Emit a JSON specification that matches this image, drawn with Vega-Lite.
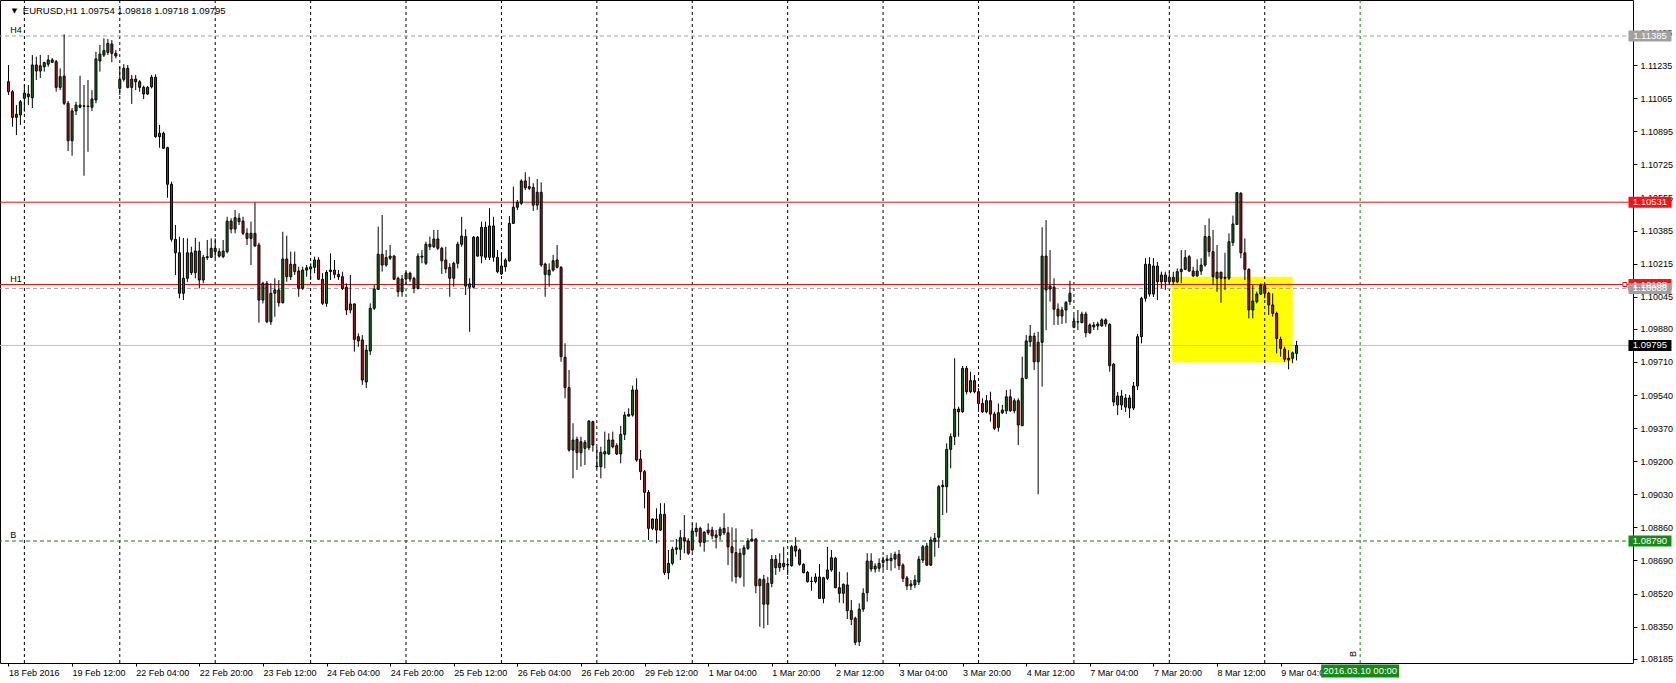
{
"$schema":"https://vega.github.io/schema/vega-lite/v6.json",
"width":1633,"height":663,
"autosize":{"type":"none"},
"padding":{"left":0,"top":0,"right":43,"bottom":20},
"background":"#ffffff",
"config":{"view":{"stroke":"#000000","strokeWidth":1},"font":"Liberation Sans"},
"datasets":{
"zone":[{"n1":292.55,"n2":323,"p1":1.10148,"p2":1.09708}],
"grid":[{"n":4,"d":"19 Feb"},{"n":28,"d":"22 Feb"},{"n":52,"d":"23 Feb"},{"n":76,"d":"24 Feb"},{"n":100,"d":"25 Feb"},{"n":124,"d":"26 Feb"},{"n":148,"d":"29 Feb"},{"n":172,"d":"1 Mar"},{"n":196,"d":"2 Mar"},{"n":220,"d":"3 Mar"},{"n":244,"d":"4 Mar"},{"n":268,"d":"7 Mar"},{"n":292,"d":"8 Mar"},{"n":316,"d":"9 Mar"},{"n":340,"d":"10 Mar","v":"B"}],
"levels":[{"p":1.11385,"kind":"h4","name":"H4"},{"p":1.10531,"kind":"r1"},{"p":1.10108,"kind":"r2","name":"H1"},{"p":1.10088,"kind":"g2"},{"p":1.09795,"kind":"bid"},{"p":1.0879,"kind":"b","name":"B"}],
"bars":[
{"n":0,"o":1.11150,"h":1.11236,"l":1.11082,"c":1.11099},
{"n":1,"o":1.11099,"h":1.11107,"l":1.10919,"c":1.10967},
{"n":2,"o":1.10967,"h":1.11030,"l":1.10876,"c":1.10983},
{"n":3,"o":1.10979,"h":1.11056,"l":1.10928,"c":1.11047},
{"n":4,"o":1.11065,"h":1.11133,"l":1.10996,"c":1.11091},
{"n":5,"o":1.11087,"h":1.11133,"l":1.11030,"c":1.11073},
{"n":6,"o":1.11068,"h":1.11287,"l":1.11015,"c":1.11236},
{"n":7,"o":1.11236,"h":1.11279,"l":1.11159,"c":1.11205},
{"n":8,"o":1.11205,"h":1.11287,"l":1.11169,"c":1.11232},
{"n":9,"o":1.11227,"h":1.11253,"l":1.11202,"c":1.11248},
{"n":10,"o":1.11240,"h":1.11287,"l":1.11227,"c":1.11262},
{"n":11,"o":1.11250,"h":1.11272,"l":1.11246,"c":1.11262},
{"n":12,"o":1.11253,"h":1.11262,"l":1.11099,"c":1.11121},
{"n":13,"o":1.11121,"h":1.11219,"l":1.11107,"c":1.11176},
{"n":14,"o":1.11179,"h":1.11394,"l":1.11030,"c":1.11039},
{"n":15,"o":1.11039,"h":1.11051,"l":1.10794,"c":1.10847},
{"n":16,"o":1.10847,"h":1.11015,"l":1.10770,"c":1.11000},
{"n":17,"o":1.11000,"h":1.11047,"l":1.10979,"c":1.11030},
{"n":18,"o":1.11019,"h":1.11181,"l":1.11013,"c":1.11030},
{"n":19,"o":1.11024,"h":1.11133,"l":1.10667,"c":1.11026},
{"n":20,"o":1.11025,"h":1.11159,"l":1.10790,"c":1.11022},
{"n":21,"o":1.11019,"h":1.11107,"l":1.11000,"c":1.11061},
{"n":22,"o":1.11056,"h":1.11304,"l":1.11039,"c":1.11267},
{"n":23,"o":1.11257,"h":1.11339,"l":1.11202,"c":1.11292},
{"n":24,"o":1.11287,"h":1.11373,"l":1.11277,"c":1.11310},
{"n":25,"o":1.11301,"h":1.11370,"l":1.11287,"c":1.11347},
{"n":26,"o":1.11344,"h":1.11364,"l":1.11250,"c":1.11296},
{"n":27,"o":1.11296,"h":1.11313,"l":1.11270,"c":1.11282},
{"n":28,"o":1.11116,"h":1.11227,"l":1.11082,"c":1.11162},
{"n":29,"o":1.11162,"h":1.11240,"l":1.11150,"c":1.11219},
{"n":30,"o":1.11219,"h":1.11236,"l":1.11116,"c":1.11121},
{"n":31,"o":1.11121,"h":1.11185,"l":1.11036,"c":1.11164},
{"n":32,"o":1.11164,"h":1.11185,"l":1.11107,"c":1.11150},
{"n":33,"o":1.11150,"h":1.11159,"l":1.11099,"c":1.11121},
{"n":34,"o":1.11121,"h":1.11130,"l":1.11061,"c":1.11087},
{"n":35,"o":1.11087,"h":1.11128,"l":1.11082,"c":1.11121},
{"n":36,"o":1.11124,"h":1.11185,"l":1.11116,"c":1.11173},
{"n":37,"o":1.11173,"h":1.11188,"l":1.10862,"c":1.10868},
{"n":38,"o":1.10868,"h":1.10928,"l":1.10811,"c":1.10885},
{"n":39,"o":1.10885,"h":1.10893,"l":1.10804,"c":1.10808},
{"n":40,"o":1.10811,"h":1.10816,"l":1.10554,"c":1.10623},
{"n":41,"o":1.10623,"h":1.10636,"l":1.10328,"c":1.10340},
{"n":42,"o":1.10340,"h":1.10414,"l":1.10157,"c":1.10271},
{"n":43,"o":1.10271,"h":1.10354,"l":1.10037,"c":1.10063},
{"n":44,"o":1.10063,"h":1.10347,"l":1.10028,"c":1.10140},
{"n":45,"o":1.10140,"h":1.10345,"l":1.10122,"c":1.10271},
{"n":46,"o":1.10271,"h":1.10302,"l":1.10157,"c":1.10169},
{"n":47,"o":1.10169,"h":1.10348,"l":1.10140,"c":1.10280},
{"n":48,"o":1.10280,"h":1.10328,"l":1.10088,"c":1.10131},
{"n":49,"o":1.10131,"h":1.10260,"l":1.10114,"c":1.10248},
{"n":50,"o":1.10246,"h":1.10337,"l":1.10234,"c":1.10251},
{"n":51,"o":1.10248,"h":1.10345,"l":1.10243,"c":1.10294},
{"n":52,"o":1.10294,"h":1.10345,"l":1.10243,"c":1.10277},
{"n":53,"o":1.10277,"h":1.10294,"l":1.10246,"c":1.10254},
{"n":54,"o":1.10251,"h":1.10337,"l":1.10243,"c":1.10280},
{"n":55,"o":1.10277,"h":1.10456,"l":1.10268,"c":1.10434},
{"n":56,"o":1.10434,"h":1.10448,"l":1.10371,"c":1.10393},
{"n":57,"o":1.10393,"h":1.10491,"l":1.10371,"c":1.10451},
{"n":58,"o":1.10448,"h":1.10474,"l":1.10414,"c":1.10431},
{"n":59,"o":1.10434,"h":1.10456,"l":1.10362,"c":1.10371},
{"n":60,"o":1.10371,"h":1.10397,"l":1.10311,"c":1.10345},
{"n":61,"o":1.10345,"h":1.10431,"l":1.10208,"c":1.10371},
{"n":62,"o":1.10371,"h":1.10530,"l":1.10302,"c":1.10306},
{"n":63,"o":1.10311,"h":1.10323,"l":1.09912,"c":1.10028},
{"n":64,"o":1.10028,"h":1.10122,"l":1.10011,"c":1.10114},
{"n":65,"o":1.10114,"h":1.10126,"l":1.09909,"c":1.09917},
{"n":66,"o":1.09917,"h":1.10114,"l":1.09900,"c":1.10063},
{"n":67,"o":1.10063,"h":1.10140,"l":1.09943,"c":1.10080},
{"n":68,"o":1.10080,"h":1.10131,"l":1.09994,"c":1.10014},
{"n":69,"o":1.10014,"h":1.10379,"l":1.10011,"c":1.10239},
{"n":70,"o":1.10239,"h":1.10359,"l":1.10122,"c":1.10148},
{"n":71,"o":1.10148,"h":1.10277,"l":1.10131,"c":1.10212},
{"n":72,"o":1.10212,"h":1.10277,"l":1.10157,"c":1.10174},
{"n":73,"o":1.10177,"h":1.10199,"l":1.10045,"c":1.10088},
{"n":74,"o":1.10088,"h":1.10199,"l":1.10080,"c":1.10182},
{"n":75,"o":1.10182,"h":1.10208,"l":1.10148,"c":1.10194},
{"n":76,"o":1.10188,"h":1.10217,"l":1.10131,"c":1.10199},
{"n":77,"o":1.10196,"h":1.10251,"l":1.10166,"c":1.10234},
{"n":78,"o":1.10234,"h":1.10248,"l":1.10131,"c":1.10135},
{"n":79,"o":1.10135,"h":1.10166,"l":1.10003,"c":1.10011},
{"n":80,"o":1.10011,"h":1.10182,"l":1.09994,"c":1.10171},
{"n":81,"o":1.10174,"h":1.10268,"l":1.10131,"c":1.10182},
{"n":82,"o":1.10182,"h":1.10234,"l":1.10140,"c":1.10160},
{"n":83,"o":1.10160,"h":1.10182,"l":1.10131,"c":1.10148},
{"n":84,"o":1.10148,"h":1.10174,"l":1.10080,"c":1.10088},
{"n":85,"o":1.10094,"h":1.10114,"l":1.09951,"c":1.09977},
{"n":86,"o":1.09977,"h":1.10157,"l":1.09960,"c":1.10008},
{"n":87,"o":1.10008,"h":1.10011,"l":1.09763,"c":1.09826},
{"n":88,"o":1.09840,"h":1.09857,"l":1.09788,"c":1.09818},
{"n":89,"o":1.09823,"h":1.09848,"l":1.09592,"c":1.09617},
{"n":90,"o":1.09607,"h":1.09797,"l":1.09576,"c":1.09771},
{"n":91,"o":1.09766,"h":1.10011,"l":1.09746,"c":1.09986},
{"n":92,"o":1.09986,"h":1.10105,"l":1.09977,"c":1.10085},
{"n":93,"o":1.10083,"h":1.10405,"l":1.10080,"c":1.10263},
{"n":94,"o":1.10263,"h":1.10465,"l":1.10174,"c":1.10208},
{"n":95,"o":1.10208,"h":1.10285,"l":1.10199,"c":1.10246},
{"n":96,"o":1.10243,"h":1.10311,"l":1.10234,"c":1.10254},
{"n":97,"o":1.10254,"h":1.10260,"l":1.10131,"c":1.10135},
{"n":98,"o":1.10140,"h":1.10148,"l":1.10045,"c":1.10071},
{"n":99,"o":1.10071,"h":1.10157,"l":1.10045,"c":1.10136},
{"n":100,"o":1.10136,"h":1.10174,"l":1.10105,"c":1.10166},
{"n":101,"o":1.10166,"h":1.10174,"l":1.10122,"c":1.10136},
{"n":102,"o":1.10140,"h":1.10148,"l":1.10063,"c":1.10088},
{"n":103,"o":1.10088,"h":1.10268,"l":1.10083,"c":1.10254},
{"n":104,"o":1.10254,"h":1.10285,"l":1.10217,"c":1.10249},
{"n":105,"o":1.10217,"h":1.10328,"l":1.10208,"c":1.10315},
{"n":106,"o":1.10315,"h":1.10354,"l":1.10285,"c":1.10302},
{"n":107,"o":1.10302,"h":1.10388,"l":1.10296,"c":1.10342},
{"n":108,"o":1.10342,"h":1.10388,"l":1.10285,"c":1.10294},
{"n":109,"o":1.10294,"h":1.10302,"l":1.10162,"c":1.10230},
{"n":110,"o":1.10234,"h":1.10302,"l":1.10166,"c":1.10188},
{"n":111,"o":1.10196,"h":1.10217,"l":1.10045,"c":1.10140},
{"n":112,"o":1.10140,"h":1.10225,"l":1.10097,"c":1.10217},
{"n":113,"o":1.10217,"h":1.10328,"l":1.10191,"c":1.10315},
{"n":114,"o":1.10315,"h":1.10456,"l":1.10302,"c":1.10357},
{"n":115,"o":1.10354,"h":1.10392,"l":1.10054,"c":1.10100},
{"n":116,"o":1.10111,"h":1.10140,"l":1.09865,"c":1.10094},
{"n":117,"o":1.10094,"h":1.10357,"l":1.10088,"c":1.10351},
{"n":118,"o":1.10351,"h":1.10357,"l":1.10251,"c":1.10254},
{"n":119,"o":1.10254,"h":1.10431,"l":1.10217,"c":1.10402},
{"n":120,"o":1.10402,"h":1.10431,"l":1.10234,"c":1.10248},
{"n":121,"o":1.10248,"h":1.10500,"l":1.10234,"c":1.10409},
{"n":122,"o":1.10409,"h":1.10456,"l":1.10225,"c":1.10248},
{"n":123,"o":1.10248,"h":1.10285,"l":1.10166,"c":1.10174},
{"n":124,"o":1.10162,"h":1.10268,"l":1.10157,"c":1.10203},
{"n":125,"o":1.10199,"h":1.10243,"l":1.10174,"c":1.10234},
{"n":126,"o":1.10230,"h":1.10460,"l":1.10225,"c":1.10422},
{"n":127,"o":1.10422,"h":1.10611,"l":1.10419,"c":1.10505},
{"n":128,"o":1.10505,"h":1.10542,"l":1.10491,"c":1.10530},
{"n":129,"o":1.10525,"h":1.10649,"l":1.10516,"c":1.10640},
{"n":130,"o":1.10640,"h":1.10685,"l":1.10594,"c":1.10605},
{"n":131,"o":1.10611,"h":1.10662,"l":1.10594,"c":1.10602},
{"n":132,"o":1.10607,"h":1.10628,"l":1.10486,"c":1.10516},
{"n":133,"o":1.10516,"h":1.10650,"l":1.10491,"c":1.10582},
{"n":134,"o":1.10582,"h":1.10633,"l":1.10199,"c":1.10208},
{"n":135,"o":1.10213,"h":1.10220,"l":1.10045,"c":1.10160},
{"n":136,"o":1.10157,"h":1.10217,"l":1.10097,"c":1.10182},
{"n":137,"o":1.10182,"h":1.10260,"l":1.10174,"c":1.10230},
{"n":138,"o":1.10234,"h":1.10311,"l":1.10191,"c":1.10196},
{"n":139,"o":1.10196,"h":1.10203,"l":1.09711,"c":1.09737},
{"n":140,"o":1.09734,"h":1.09806,"l":1.09523,"c":1.09578},
{"n":141,"o":1.09578,"h":1.09669,"l":1.09249,"c":1.09257},
{"n":142,"o":1.09257,"h":1.09395,"l":1.09112,"c":1.09309},
{"n":143,"o":1.09312,"h":1.09326,"l":1.09155,"c":1.09244},
{"n":144,"o":1.09244,"h":1.09326,"l":1.09172,"c":1.09300},
{"n":145,"o":1.09297,"h":1.09309,"l":1.09180,"c":1.09266},
{"n":146,"o":1.09269,"h":1.09412,"l":1.09257,"c":1.09406},
{"n":147,"o":1.09403,"h":1.09408,"l":1.09249,"c":1.09283},
{"n":148,"o":1.09172,"h":1.09274,"l":1.09163,"c":1.09175},
{"n":149,"o":1.09172,"h":1.09274,"l":1.09112,"c":1.09246},
{"n":150,"o":1.09237,"h":1.09352,"l":1.09163,"c":1.09249},
{"n":151,"o":1.09237,"h":1.09343,"l":1.09232,"c":1.09309},
{"n":152,"o":1.09309,"h":1.09352,"l":1.09266,"c":1.09274},
{"n":153,"o":1.09280,"h":1.09292,"l":1.09232,"c":1.09237},
{"n":154,"o":1.09237,"h":1.09381,"l":1.09189,"c":1.09338},
{"n":155,"o":1.09338,"h":1.09454,"l":1.09309,"c":1.09437},
{"n":156,"o":1.09432,"h":1.09472,"l":1.09429,"c":1.09441},
{"n":157,"o":1.09437,"h":1.09588,"l":1.09429,"c":1.09566},
{"n":158,"o":1.09566,"h":1.09626,"l":1.09197,"c":1.09206},
{"n":159,"o":1.09211,"h":1.09257,"l":1.09103,"c":1.09146},
{"n":160,"o":1.09146,"h":1.09155,"l":1.08958,"c":1.09040},
{"n":161,"o":1.09040,"h":1.09052,"l":1.08795,"c":1.08855},
{"n":162,"o":1.08855,"h":1.08906,"l":1.08846,"c":1.08903},
{"n":163,"o":1.08903,"h":1.08958,"l":1.08778,"c":1.08846},
{"n":164,"o":1.08846,"h":1.08984,"l":1.08841,"c":1.08927},
{"n":165,"o":1.08927,"h":1.08984,"l":1.08615,"c":1.08627},
{"n":166,"o":1.08627,"h":1.08744,"l":1.08593,"c":1.08675},
{"n":167,"o":1.08675,"h":1.08760,"l":1.08666,"c":1.08747},
{"n":168,"o":1.08747,"h":1.08800,"l":1.08720,"c":1.08755},
{"n":169,"o":1.08747,"h":1.08846,"l":1.08692,"c":1.08807},
{"n":170,"o":1.08807,"h":1.08923,"l":1.08727,"c":1.08790},
{"n":171,"o":1.08790,"h":1.08804,"l":1.08718,"c":1.08727},
{"n":172,"o":1.08744,"h":1.08881,"l":1.08735,"c":1.08841},
{"n":173,"o":1.08838,"h":1.08884,"l":1.08812,"c":1.08855},
{"n":174,"o":1.08855,"h":1.08863,"l":1.08760,"c":1.08783},
{"n":175,"o":1.08783,"h":1.08841,"l":1.08735,"c":1.08835},
{"n":176,"o":1.08846,"h":1.08881,"l":1.08821,"c":1.08832},
{"n":177,"o":1.08846,"h":1.08863,"l":1.08799,"c":1.08816},
{"n":178,"o":1.08809,"h":1.08846,"l":1.08752,"c":1.08821},
{"n":179,"o":1.08819,"h":1.08863,"l":1.08795,"c":1.08851},
{"n":180,"o":1.08855,"h":1.08932,"l":1.08821,"c":1.08832},
{"n":181,"o":1.08832,"h":1.08863,"l":1.08666,"c":1.08760},
{"n":182,"o":1.08760,"h":1.08860,"l":1.08581,"c":1.08730},
{"n":183,"o":1.08730,"h":1.08855,"l":1.08572,"c":1.08606},
{"n":184,"o":1.08606,"h":1.08752,"l":1.08598,"c":1.08727},
{"n":185,"o":1.08721,"h":1.08769,"l":1.08555,"c":1.08755},
{"n":186,"o":1.08752,"h":1.08804,"l":1.08744,"c":1.08790},
{"n":187,"o":1.08790,"h":1.08851,"l":1.08786,"c":1.08800},
{"n":188,"o":1.08800,"h":1.08804,"l":1.08521,"c":1.08560},
{"n":189,"o":1.08560,"h":1.08598,"l":1.08349,"c":1.08593},
{"n":190,"o":1.08593,"h":1.08615,"l":1.08341,"c":1.08465},
{"n":191,"o":1.08465,"h":1.08606,"l":1.08358,"c":1.08572},
{"n":192,"o":1.08572,"h":1.08718,"l":1.08552,"c":1.08696},
{"n":193,"o":1.08696,"h":1.08718,"l":1.08615,"c":1.08653},
{"n":194,"o":1.08653,"h":1.08727,"l":1.08632,"c":1.08675},
{"n":195,"o":1.08675,"h":1.08760,"l":1.08641,"c":1.08658},
{"n":196,"o":1.08670,"h":1.08692,"l":1.08615,"c":1.08667},
{"n":197,"o":1.08663,"h":1.08769,"l":1.08658,"c":1.08760},
{"n":198,"o":1.08764,"h":1.08809,"l":1.08709,"c":1.08738},
{"n":199,"o":1.08744,"h":1.08752,"l":1.08663,"c":1.08670},
{"n":200,"o":1.08670,"h":1.08675,"l":1.08624,"c":1.08627},
{"n":201,"o":1.08629,"h":1.08636,"l":1.08576,"c":1.08581},
{"n":202,"o":1.08584,"h":1.08606,"l":1.08534,"c":1.08582},
{"n":203,"o":1.08581,"h":1.08624,"l":1.08572,"c":1.08605},
{"n":204,"o":1.08605,"h":1.08672,"l":1.08492,"c":1.08495},
{"n":205,"o":1.08495,"h":1.08606,"l":1.08470,"c":1.08601},
{"n":206,"o":1.08598,"h":1.08760,"l":1.08589,"c":1.08641},
{"n":207,"o":1.08641,"h":1.08744,"l":1.08632,"c":1.08704},
{"n":208,"o":1.08701,"h":1.08709,"l":1.08547,"c":1.08550},
{"n":209,"o":1.08550,"h":1.08632,"l":1.08473,"c":1.08521},
{"n":210,"o":1.08521,"h":1.08572,"l":1.08470,"c":1.08567},
{"n":211,"o":1.08564,"h":1.08629,"l":1.08389,"c":1.08432},
{"n":212,"o":1.08432,"h":1.08487,"l":1.08358,"c":1.08387},
{"n":213,"o":1.08393,"h":1.08401,"l":1.08255,"c":1.08269},
{"n":214,"o":1.08272,"h":1.08470,"l":1.08250,"c":1.08440},
{"n":215,"o":1.08440,"h":1.08547,"l":1.08426,"c":1.08521},
{"n":216,"o":1.08524,"h":1.08727,"l":1.08478,"c":1.08687},
{"n":217,"o":1.08687,"h":1.08727,"l":1.08632,"c":1.08646},
{"n":218,"o":1.08646,"h":1.08675,"l":1.08627,"c":1.08661},
{"n":219,"o":1.08650,"h":1.08701,"l":1.08632,"c":1.08675},
{"n":220,"o":1.08680,"h":1.08709,"l":1.08641,"c":1.08692},
{"n":221,"o":1.08689,"h":1.08718,"l":1.08641,"c":1.08697},
{"n":222,"o":1.08689,"h":1.08727,"l":1.08637,"c":1.08701},
{"n":223,"o":1.08697,"h":1.08735,"l":1.08650,"c":1.08721},
{"n":224,"o":1.08721,"h":1.08744,"l":1.08641,"c":1.08663},
{"n":225,"o":1.08666,"h":1.08675,"l":1.08579,"c":1.08598},
{"n":226,"o":1.08600,"h":1.08610,"l":1.08538,"c":1.08559},
{"n":227,"o":1.08559,"h":1.08589,"l":1.08538,"c":1.08569},
{"n":228,"o":1.08564,"h":1.08615,"l":1.08548,"c":1.08589},
{"n":229,"o":1.08579,"h":1.08713,"l":1.08564,"c":1.08696},
{"n":230,"o":1.08692,"h":1.08769,"l":1.08677,"c":1.08760},
{"n":231,"o":1.08764,"h":1.08780,"l":1.08661,"c":1.08666},
{"n":232,"o":1.08666,"h":1.08812,"l":1.08661,"c":1.08795},
{"n":233,"o":1.08786,"h":1.08831,"l":1.08709,"c":1.08804},
{"n":234,"o":1.08809,"h":1.09078,"l":1.08754,"c":1.09069},
{"n":235,"o":1.09069,"h":1.09103,"l":1.08923,"c":1.09076},
{"n":236,"o":1.09069,"h":1.09292,"l":1.08935,"c":1.09261},
{"n":237,"o":1.09261,"h":1.09343,"l":1.09163,"c":1.09326},
{"n":238,"o":1.09326,"h":1.09729,"l":1.09283,"c":1.09468},
{"n":239,"o":1.09468,"h":1.09480,"l":1.09326,"c":1.09454},
{"n":240,"o":1.09454,"h":1.09689,"l":1.09449,"c":1.09677},
{"n":241,"o":1.09677,"h":1.09689,"l":1.09544,"c":1.09557},
{"n":242,"o":1.09557,"h":1.09660,"l":1.09549,"c":1.09614},
{"n":243,"o":1.09614,"h":1.09643,"l":1.09549,"c":1.09557},
{"n":244,"o":1.09557,"h":1.09575,"l":1.09454,"c":1.09497},
{"n":245,"o":1.09497,"h":1.09523,"l":1.09449,"c":1.09454},
{"n":246,"o":1.09454,"h":1.09540,"l":1.09446,"c":1.09511},
{"n":247,"o":1.09511,"h":1.09557,"l":1.09403,"c":1.09442},
{"n":248,"o":1.09442,"h":1.09454,"l":1.09360,"c":1.09369},
{"n":249,"o":1.09374,"h":1.09497,"l":1.09352,"c":1.09449},
{"n":250,"o":1.09449,"h":1.09489,"l":1.09442,"c":1.09463},
{"n":251,"o":1.09459,"h":1.09566,"l":1.09442,"c":1.09531},
{"n":252,"o":1.09531,"h":1.09569,"l":1.09454,"c":1.09459},
{"n":253,"o":1.09459,"h":1.09523,"l":1.09446,"c":1.09511},
{"n":254,"o":1.09511,"h":1.09523,"l":1.09283,"c":1.09386},
{"n":255,"o":1.09382,"h":1.09737,"l":1.09381,"c":1.09626},
{"n":256,"o":1.09626,"h":1.09848,"l":1.09621,"c":1.09818},
{"n":257,"o":1.09814,"h":1.09900,"l":1.09788,"c":1.09843},
{"n":258,"o":1.09843,"h":1.09860,"l":1.09669,"c":1.09711},
{"n":259,"o":1.09711,"h":1.09865,"l":1.09030,"c":1.09811},
{"n":260,"o":1.09811,"h":1.10402,"l":1.09583,"c":1.10254},
{"n":261,"o":1.10254,"h":1.10439,"l":1.09874,"c":1.10080},
{"n":262,"o":1.10085,"h":1.10285,"l":1.10020,"c":1.10100},
{"n":263,"o":1.10094,"h":1.10140,"l":1.09900,"c":1.09981},
{"n":264,"o":1.09981,"h":1.10011,"l":1.09900,"c":1.09946},
{"n":265,"o":1.09946,"h":1.09994,"l":1.09905,"c":1.09977},
{"n":266,"o":1.09977,"h":1.10023,"l":1.09909,"c":1.10016},
{"n":267,"o":1.10020,"h":1.10127,"l":1.10003,"c":1.10063},
{"n":268,"o":1.09888,"h":1.09951,"l":1.09883,"c":1.09920},
{"n":269,"o":1.09915,"h":1.09977,"l":1.09874,"c":1.09917},
{"n":270,"o":1.09912,"h":1.09968,"l":1.09909,"c":1.09956},
{"n":271,"o":1.09956,"h":1.09968,"l":1.09837,"c":1.09860},
{"n":272,"o":1.09860,"h":1.09909,"l":1.09854,"c":1.09900},
{"n":273,"o":1.09890,"h":1.09915,"l":1.09874,"c":1.09900},
{"n":274,"o":1.09895,"h":1.09917,"l":1.09874,"c":1.09905},
{"n":275,"o":1.09895,"h":1.09934,"l":1.09891,"c":1.09926},
{"n":276,"o":1.09926,"h":1.09934,"l":1.09891,"c":1.09905},
{"n":277,"o":1.09903,"h":1.09909,"l":1.09660,"c":1.09691},
{"n":278,"o":1.09698,"h":1.09705,"l":1.09484,"c":1.09504},
{"n":279,"o":1.09489,"h":1.09556,"l":1.09437,"c":1.09535},
{"n":280,"o":1.09535,"h":1.09566,"l":1.09463,"c":1.09489},
{"n":281,"o":1.09478,"h":1.09545,"l":1.09453,"c":1.09525},
{"n":282,"o":1.09525,"h":1.09540,"l":1.09422,"c":1.09473},
{"n":283,"o":1.09473,"h":1.09607,"l":1.09463,"c":1.09586},
{"n":284,"o":1.09586,"h":1.09854,"l":1.09566,"c":1.09840},
{"n":285,"o":1.09840,"h":1.10045,"l":1.09806,"c":1.10037},
{"n":286,"o":1.10037,"h":1.10244,"l":1.10020,"c":1.10212},
{"n":287,"o":1.10212,"h":1.10248,"l":1.10045,"c":1.10059},
{"n":288,"o":1.10059,"h":1.10244,"l":1.10044,"c":1.10203},
{"n":289,"o":1.10203,"h":1.10224,"l":1.10028,"c":1.10122},
{"n":290,"o":1.10122,"h":1.10174,"l":1.10088,"c":1.10157},
{"n":291,"o":1.10157,"h":1.10174,"l":1.10080,"c":1.10122},
{"n":292,"o":1.10122,"h":1.10174,"l":1.10105,"c":1.10145},
{"n":293,"o":1.10145,"h":1.10174,"l":1.10105,"c":1.10122},
{"n":294,"o":1.10122,"h":1.10191,"l":1.10114,"c":1.10174},
{"n":295,"o":1.10174,"h":1.10285,"l":1.10114,"c":1.10186},
{"n":296,"o":1.10186,"h":1.10285,"l":1.10182,"c":1.10246},
{"n":297,"o":1.10251,"h":1.10260,"l":1.10174,"c":1.10177},
{"n":298,"o":1.10177,"h":1.10199,"l":1.10148,"c":1.10152},
{"n":299,"o":1.10152,"h":1.10237,"l":1.10148,"c":1.10177},
{"n":300,"o":1.10177,"h":1.10243,"l":1.10157,"c":1.10208},
{"n":301,"o":1.10208,"h":1.10414,"l":1.10199,"c":1.10354},
{"n":302,"o":1.10354,"h":1.10448,"l":1.10251,"c":1.10277},
{"n":303,"o":1.10277,"h":1.10388,"l":1.10105,"c":1.10148},
{"n":304,"o":1.10140,"h":1.10311,"l":1.10071,"c":1.10171},
{"n":305,"o":1.10171,"h":1.10174,"l":1.10014,"c":1.10140},
{"n":306,"o":1.10145,"h":1.10271,"l":1.10080,"c":1.10140},
{"n":307,"o":1.10140,"h":1.10371,"l":1.10131,"c":1.10328},
{"n":308,"o":1.10323,"h":1.10462,"l":1.10306,"c":1.10419},
{"n":309,"o":1.10417,"h":1.10582,"l":1.10414,"c":1.10580},
{"n":310,"o":1.10577,"h":1.10582,"l":1.10243,"c":1.10271},
{"n":311,"o":1.10271,"h":1.10345,"l":1.10131,"c":1.10186},
{"n":312,"o":1.10186,"h":1.10191,"l":1.09934,"c":1.09977},
{"n":313,"o":1.09977,"h":1.10105,"l":1.09934,"c":1.10023},
{"n":314,"o":1.10020,"h":1.10071,"l":1.10011,"c":1.10059},
{"n":315,"o":1.10059,"h":1.10114,"l":1.10054,"c":1.10105},
{"n":316,"o":1.10102,"h":1.10111,"l":1.10037,"c":1.10063},
{"n":317,"o":1.10063,"h":1.10071,"l":1.09951,"c":1.10003},
{"n":318,"o":1.10003,"h":1.10063,"l":1.09943,"c":1.09960},
{"n":319,"o":1.09960,"h":1.09968,"l":1.09754,"c":1.09831},
{"n":320,"o":1.09826,"h":1.09840,"l":1.09737,"c":1.09780},
{"n":321,"o":1.09776,"h":1.09788,"l":1.09711,"c":1.09724},
{"n":322,"o":1.09729,"h":1.09771,"l":1.09672,"c":1.09720},
{"n":323,"o":1.09729,"h":1.09763,"l":1.09703,"c":1.09757},
{"n":324,"o":1.09754,"h":1.09818,"l":1.09718,"c":1.09795}
]},
"encoding":{
  "x":{"type":"quantitative","title":null,"scale":{"domain":[-0.875,407.375],"nice":false,"zero":false},
   "axis":{"title":null,"grid":false,"domain":false,"values":[0,16,32,48,64,80,96,112,128,144,160,176,192,208,224,240,256,272,288,304,320],
   "labelExpr":"['18 Feb 2016','19 Feb 12:00','22 Feb 04:00','22 Feb 20:00','23 Feb 12:00','24 Feb 04:00','24 Feb 20:00','25 Feb 12:00','26 Feb 04:00','26 Feb 20:00','29 Feb 12:00','1 Mar 04:00','1 Mar 20:00','2 Mar 12:00','3 Mar 04:00','3 Mar 20:00','4 Mar 12:00','7 Mar 04:00','7 Mar 20:00','8 Mar 12:00','9 Mar 04:00'][round(datum.value/16)]",
   "labelAlign":"left","labelBaseline":"top","labelPadding":2,"labelDx":-2,"labelFontSize":9,"labelColor":"#000000","tickColor":"#000000","tickSize":3,"labelOverlap":false,"labelFlush":false,"labelBound":false}},
  "y":{"type":"quantitative","title":null,"scale":{"domain":[1.08163,1.1157],"nice":false,"zero":false},
   "axis":{"title":null,"orient":"right","grid":false,"domain":false,"format":".5f",
   "values":[1.08185,1.0835,1.0852,1.0869,1.0886,1.0903,1.092,1.0937,1.0954,1.0971,1.0988,1.10045,1.10215,1.10385,1.10555,1.10725,1.10895,1.11065,1.11235,1.11405],
   "labelFontSize":9,"labelColor":"#000000","tickColor":"#000000","tickSize":4,"labelPadding":3,"labelOverlap":false,"labelFlush":false,"labelBound":false}}
},
"layer":[
{"data":{"name":"zone"},"mark":{"type":"rect","color":"#ffff00"},
 "encoding":{"x":{"field":"n1"},"x2":{"field":"n2"},"y":{"field":"p1"},"y2":{"field":"p2"}}},
{"data":{"name":"grid"},"mark":{"type":"rule","strokeDash":[3,3],"strokeWidth":1},
 "encoding":{"x":{"field":"n"},"y":null,
  "color":{"condition":{"test":"datum.v == 'B'","value":"#1a7a1a"},"value":"#000000"}}},
{"data":{"name":"levels"},"mark":{"type":"rule","strokeWidth":1},
 "encoding":{"x":null,"y":{"field":"p"},
  "stroke":{"field":"kind","type":"nominal","legend":null,"scale":{"domain":["h4","r1","r2","g2","bid","b"],"range":["#a0a0a0","#d41a1a","#d41a1a","#a0a0a0","#c0c0c0","#1a7a1a"]}},
  "strokeDash":{"field":"kind","type":"nominal","legend":null,"scale":{"domain":["h4","r1","r2","g2","bid","b"],"range":[[4,3],[1,0],[1,0],[4,3],[1,0],[4,3]]}}}},
{"data":{"name":"bars"},"mark":{"type":"rule","color":"#000000","strokeWidth":1},
 "encoding":{"x":{"field":"n"},"y":{"field":"l"},"y2":{"field":"h"}}},
{"data":{"name":"bars"},"mark":{"type":"bar","width":2,"stroke":"#000000","strokeWidth":1},
 "encoding":{"x":{"field":"n"},"y":{"field":"o"},"y2":{"field":"c"},
  "fill":{"condition":{"test":"datum.c >= datum.o","value":"#1d6b1d"},"value":"#a31c1c"}}},
{"data":{"name":"levels"},"transform":[{"filter":"isValid(datum.name)"}],
 "mark":{"type":"text","align":"left","baseline":"bottom","dy":-1,"fontSize":9,"color":"#000000"},
 "encoding":{"x":{"datum":0.45},"y":{"field":"p"},"text":{"field":"name"}}},
{"data":{"name":"levels"},"mark":{"type":"tick","orient":"horizontal","size":43,"thickness":11,"opacity":1},
 "encoding":{"x":{"datum":412.9},"y":{"field":"p"},
  "color":{"field":"kind","type":"nominal","legend":null,"scale":{"domain":["h4","r1","r2","g2","bid","b"],"range":["#a0a0a0","#ff1010","#ff1010","#a0a0a0","#000000","#168a16"]}}}},
{"data":{"name":"levels"},"mark":{"type":"text","align":"center","baseline":"middle","fontSize":9.5,"color":"#ffffff"},
 "encoding":{"x":{"datum":412.9},"y":{"field":"p"},"text":{"field":"p","type":"quantitative","format":".5f"}}},
{"data":{"values":[{"t":"EURUSD,H1  1.09754 1.09818 1.09718 1.09795"}]},
 "mark":{"type":"text","align":"left","baseline":"middle","fontSize":9.5,"color":"#000000"},
 "encoding":{"x":{"datum":3.6},"y":{"datum":1.11515},"text":{"field":"t"}}},
{"data":{"values":[{"t":"▼"}]},
 "mark":{"type":"text","align":"center","baseline":"middle","fontSize":7,"color":"#000000","font":"DejaVu Sans"},
 "encoding":{"x":{"datum":1.5},"y":{"datum":1.11515},"text":{"field":"t"}}},
{"data":{"values":[{"t":"2016.03.10 00:00","n":340}]},
 "mark":{"type":"tick","orient":"horizontal","size":78,"thickness":13,"color":"#168a16","opacity":1},
 "encoding":{"x":{"field":"n"},"y":{"datum":1.08122}}},
{"data":{"values":[{"t":"2016.03.10 00:00","n":340}]},
 "mark":{"type":"text","align":"center","baseline":"middle","fontSize":9.5,"color":"#ffffff"},
 "encoding":{"x":{"field":"n"},"y":{"datum":1.08122},"text":{"field":"t"}}},
{"data":{"values":[{"t":"B","n":340}]},
 "mark":{"type":"text","align":"center","baseline":"bottom","angle":270,"dy":-2,"fontSize":9,"color":"#000000"},
 "encoding":{"x":{"field":"n"},"y":{"datum":1.08209},"text":{"field":"t"}}},
{"data":{"values":[{"p":1.10108}]},
 "mark":{"type":"point","shape":"square","size":16,"filled":true,"fill":"#ffffff","stroke":"#d41a1a","strokeWidth":1,"opacity":1},
 "encoding":{"x":{"datum":406.6},"y":{"field":"p"}}}
]
}
